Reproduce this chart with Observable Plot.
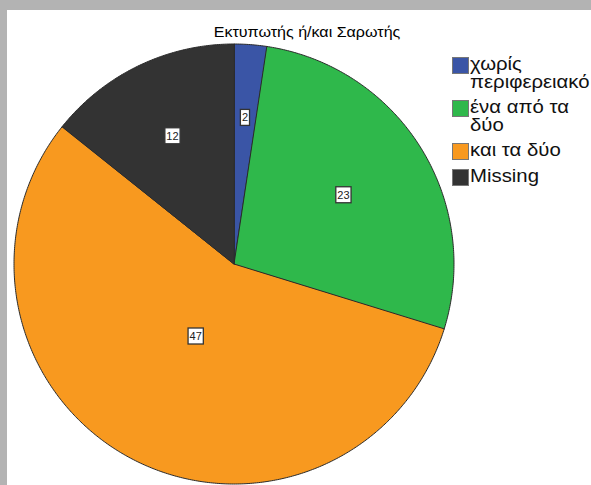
<!DOCTYPE html>
<html><head><meta charset="utf-8">
<script src="https://cdn.jsdelivr.net/npm/d3@7"></script>
<script src="https://cdn.jsdelivr.net/npm/@observablehq/plot@0.6"></script>
<style>
body{margin:0;background:#fff;}
#wrap{position:relative;width:591px;height:485px;overflow:hidden;font-family:"Liberation Sans",Arial,sans-serif;}
#chart{position:absolute;left:0;top:0;}
.ftop{position:absolute;left:0;top:0;width:591px;height:10px;background:#b3b3b3;}
.fleft{position:absolute;left:0;top:0;width:7px;height:485px;background:#b3b3b3;}
#title{position:absolute;left:307px;top:23px;transform:translateX(-50%) scaleX(1.07);white-space:nowrap;font-size:15px;line-height:17px;color:#000;}
#legend{position:absolute;left:452px;top:55px;}
.item{display:flex;align-items:flex-start;margin-bottom:7px;}
.sw{width:15px;height:15px;border:1px solid #777;flex:none;margin-top:2px;}
.lab{margin-left:1px;font-size:18px;line-height:18px;color:#111;transform:scaleX(1.13);transform-origin:left top;white-space:nowrap;}
</style></head>
<body><div id="wrap"><div id="chart"></div><div class="ftop"></div><div class="fleft"></div>
<div id="title"></div><div id="legend"></div></div>
<script>
const title = "Εκτυπωτής ή/και Σαρωτής";
const categories = ["χωρίς περιφερειακό", "ένα από τα δύο", "και τα δύο", "Missing"];
const legendLines = [["χωρίς", "περιφερειακό"], ["ένα από τα", "δύο"], ["και τα δύο"], ["Missing"]];
const counts = [2, 23, 47, 12];
const colors = ["#3a55a6", "#2fb84b", "#f8991f", "#333333"];

const total = d3.sum(counts);
let acc = 0;
const slices = categories.map((c, i) => {
  const a0 = acc / total * 2 * Math.PI; acc += counts[i];
  const a1 = acc / total * 2 * Math.PI;
  return {c, v: counts[i], color: colors[i], a0, a1};
});
const pts = [];
for (const s of slices) {
  pts.push({c: s.c, color: s.color, x: 0, y: 0});
  const n = Math.max(2, Math.ceil((s.a1 - s.a0) / (Math.PI / 360)));
  for (let k = 0; k <= n; k++) {
    const a = s.a0 + (s.a1 - s.a0) * k / n;
    pts.push({c: s.c, color: s.color, x: Math.sin(a), y: Math.cos(a)});
  }
}
const labels = slices.map(s => {
  const th = s.a1 - s.a0, m = (s.a0 + s.a1) / 2;
  const d = 4 * Math.sin(th / 2) / (3 * th);
  return {x: d * Math.sin(m), y: d * Math.cos(m), t: String(s.v)};
});

const plot = Plot.plot({
  width: 591, height: 485, margin: 0,
  style: {background: "transparent"},
  x: {domain: [-1, 1], range: [13.5, 453.5], axis: null},
  y: {domain: [-1, 1], range: [483.5, 43.5], axis: null},
  color: {type: "identity"},
  marks: [
    Plot.line(pts, {x: "x", y: "y", z: "c", fill: "color", stroke: "#2a2a2a", strokeWidth: 1, curve: "linear-closed"}),
    Plot.text(labels, {x: "x", y: "y", text: "t", fontSize: 11, fill: "#222", fontFamily: "Liberation Sans, Arial, sans-serif"})
  ]
});
document.getElementById("chart").appendChild(plot);
// boxes behind labels
plot.querySelectorAll('g[aria-label="text"] text').forEach(t => {
  const b = t.getBBox();
  const r = document.createElementNS("http://www.w3.org/2000/svg", "rect");
  r.setAttribute("x", b.x - 1.5); r.setAttribute("y", b.y - 2);
  r.setAttribute("width", b.width + 3); r.setAttribute("height", b.height + 4);
  r.setAttribute("fill", "#fff"); r.setAttribute("stroke", "#333"); r.setAttribute("stroke-width", 1.3);
  const tr = t.getAttribute("transform");
  if (tr) r.setAttribute("transform", tr);
  t.parentNode.insertBefore(r, t);
});

document.getElementById("title").textContent = title;
const lg = document.getElementById("legend");
legendLines.forEach((lines, i) => {
  const it = document.createElement("div"); it.className = "item";
  const sw = document.createElement("div"); sw.className = "sw"; sw.style.background = colors[i];
  const lb = document.createElement("div"); lb.className = "lab"; lb.innerHTML = lines.join("<br>");
  it.appendChild(sw); it.appendChild(lb); lg.appendChild(it);
});
</script></body></html>
